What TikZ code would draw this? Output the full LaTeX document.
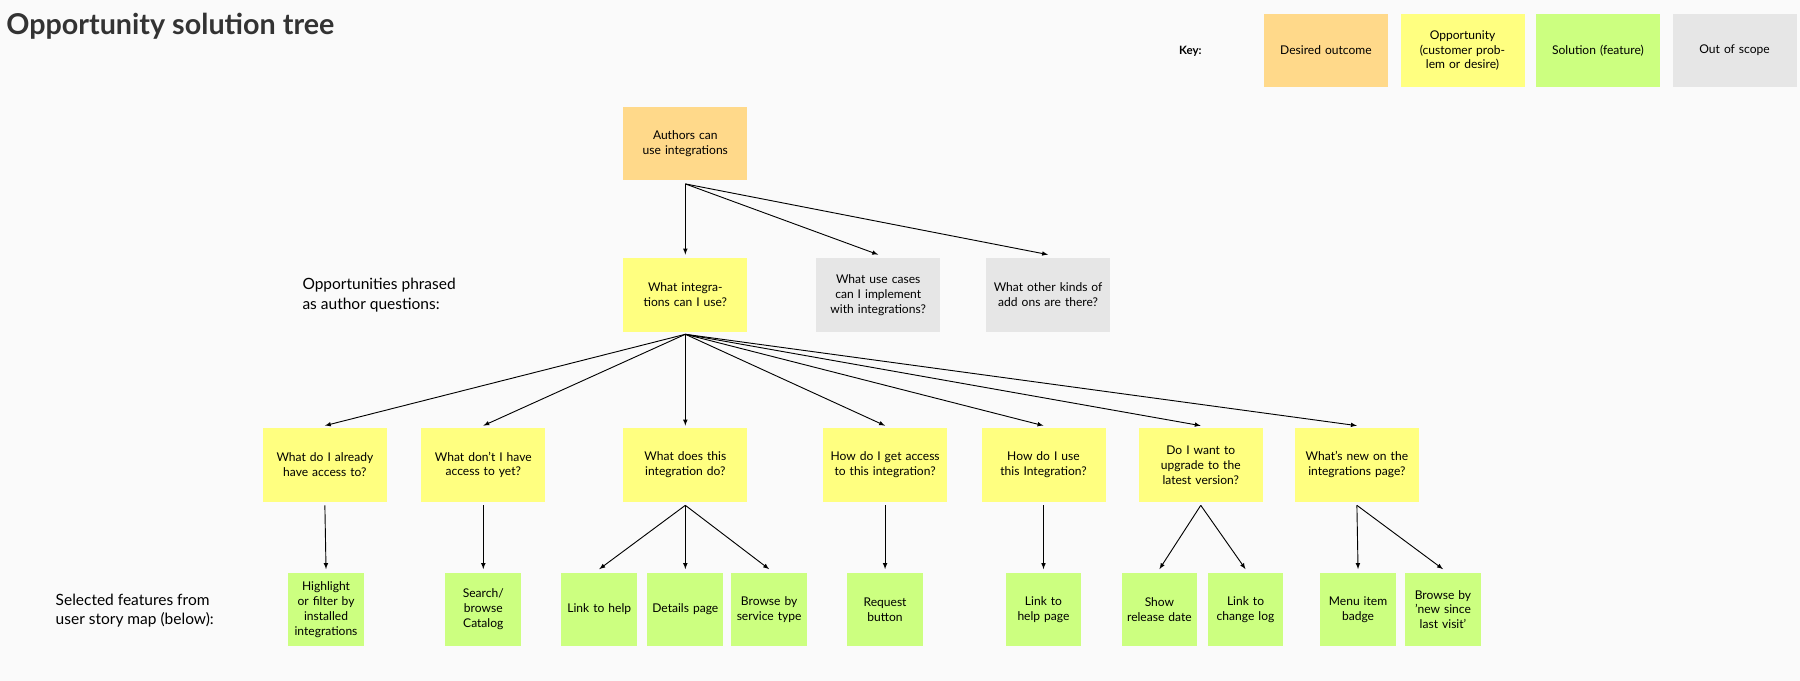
\documentclass[tikz,border=0pt]{standalone}
\usepackage{fontspec}
\setmainfont{Lato}
\usetikzlibrary{arrows,positioning}
\definecolor{outcome}{HTML}{FFD98A}
\definecolor{opport}{HTML}{FFFF80}
\definecolor{solut}{HTML}{CCFF80}
\definecolor{scope}{HTML}{E6E6E6}
\definecolor{bg}{HTML}{FAFAFA}
\tikzstyle{note} = [minimum width=108pt,minimum height=64pt,inner sep=2pt,align=center,text width=96pt,font=\fontsize{10.5}{13}\selectfont]
\tikzstyle{small} = [note,minimum width=66pt,text width=60pt]
\tikzstyle{link} = [->,thick,arrows={-latex}]
\tikzstyle{label} = [anchor=west,align=left,font=\fontsize{13.5}{17}\selectfont]

\begin{document}
\begin{tikzpicture}[x=1pt,y=-1pt]
		\fill[bg] (0,0) rectangle (1568,593);
		\useasboundingbox (0,0) rectangle (1568,593);
		\node (title) [anchor=west,font=\fontsize{25}{30}\selectfont\bfseries,text=black!80] at (2,23) {Opportunity solution tree};

		% key
		\node (key) [font=\fontsize{10}{12}\selectfont\bfseries] at (1037,45) {Key:};
		\node (k1)[note,fill=outcome] at (1155,44) {Desired outcome};
		\node (k2)[note,fill=opport] at (1274,44) {Opportunity (customer problem or desire)};
		\node (k3)[note,fill=solut] at (1392,44) {Solution (feature)};
		\node (k4)[note,fill=scope] at (1511,44) {Out of scope};

		\node (lab1)[label] at (260,257) {Opportunities phrased\\as author questions:};
		\node (lab2)[label] at (45,532) {Selected features from\\user story map (below):};

		\node (root)[note,fill=outcome] at (597,125) {Authors can use integrations};

		\node (o1)[note,fill=opport] at (597,257) {What integrations can I use?};
		\node (o2)[note,fill=scope] at (765,257) {What use cases can I implement with integrations?};
		\node (o3)[note,fill=scope] at (913,257) {What other kinds of add ons are there?};

		\node (q1)[note,fill=opport] at (283,405) {What do I already have access to?};
		\node (q2)[note,fill=opport] at (421,405) {What don't I have access to yet?};
		\node (q3)[note,fill=opport] at (597,405) {What does this integration do?};
		\node (q4)[note,fill=opport] at (771,405) {How do I get access to this integration?};
		\node (q5)[note,fill=opport] at (909,405) {How do I use this Integration?};
		\node (q6)[note,fill=opport] at (1046,405) {Do I want to upgrade to the latest version?};
		\node (q7)[note,fill=opport] at (1182,405) {What's new on the integrations page?};

		\node (s1)[small,fill=solut] at (284,531) {Highlight or filter by installed integrations};
		\node (s2)[small,fill=solut] at (421,531) {Search/ browse Catalog};
		\node (s3)[small,fill=solut] at (522,531) {Link to help};
		\node (s4)[small,fill=solut] at (597,531) {Details page};
		\node (s5)[small,fill=solut] at (670,531) {Browse by service type};
		\node (s6)[small,fill=solut] at (771,531) {Request button};
		\node (s7)[small,fill=solut] at (909,531) {Link to help page};
		\node (s8)[small,fill=solut] at (1010,531) {Show release date};
		\node (s9)[small,fill=solut] at (1085,531) {Link to change log};
		\node (s10)[small,fill=solut] at (1183,531) {Menu item badge};
		\node (s11)[small,fill=solut] at (1257,531) {Browse by 'new since last visit'};

		\coordinate (r) at ([yshift=-3pt]root.south);
		\coordinate (a) at ([yshift=-2pt]o1.south);
		\foreach \t in {o1,o2,o3} \draw[link] (r) -- ([yshift=3pt]\t.north);
		\foreach \t in {q1,q2,q3,q4,q5,q6,q7} \draw[link] (a) -- ([yshift=2pt]\t.north);
		\draw[link] ([yshift=-3pt]q1.south) -- ([yshift=3pt]s1.north);
		\draw[link] ([yshift=-3pt]q2.south) -- ([yshift=3pt]s2.north);
		\foreach \t in {s3,s4,s5} \draw[link] ([yshift=-3pt]q3.south) -- ([yshift=3pt]\t.north);
		\draw[link] ([yshift=-3pt]q4.south) -- ([yshift=3pt]s6.north);
		\draw[link] ([yshift=-3pt]q5.south) -- ([yshift=3pt]s7.north);
		\foreach \t in {s8,s9} \draw[link] ([yshift=-3pt]q6.south) -- ([yshift=3pt]\t.north);
		\foreach \t in {s10,s11} \draw[link] ([yshift=-3pt]q7.south) -- ([yshift=3pt]\t.north);
	\end{tikzpicture}
\end{document}
